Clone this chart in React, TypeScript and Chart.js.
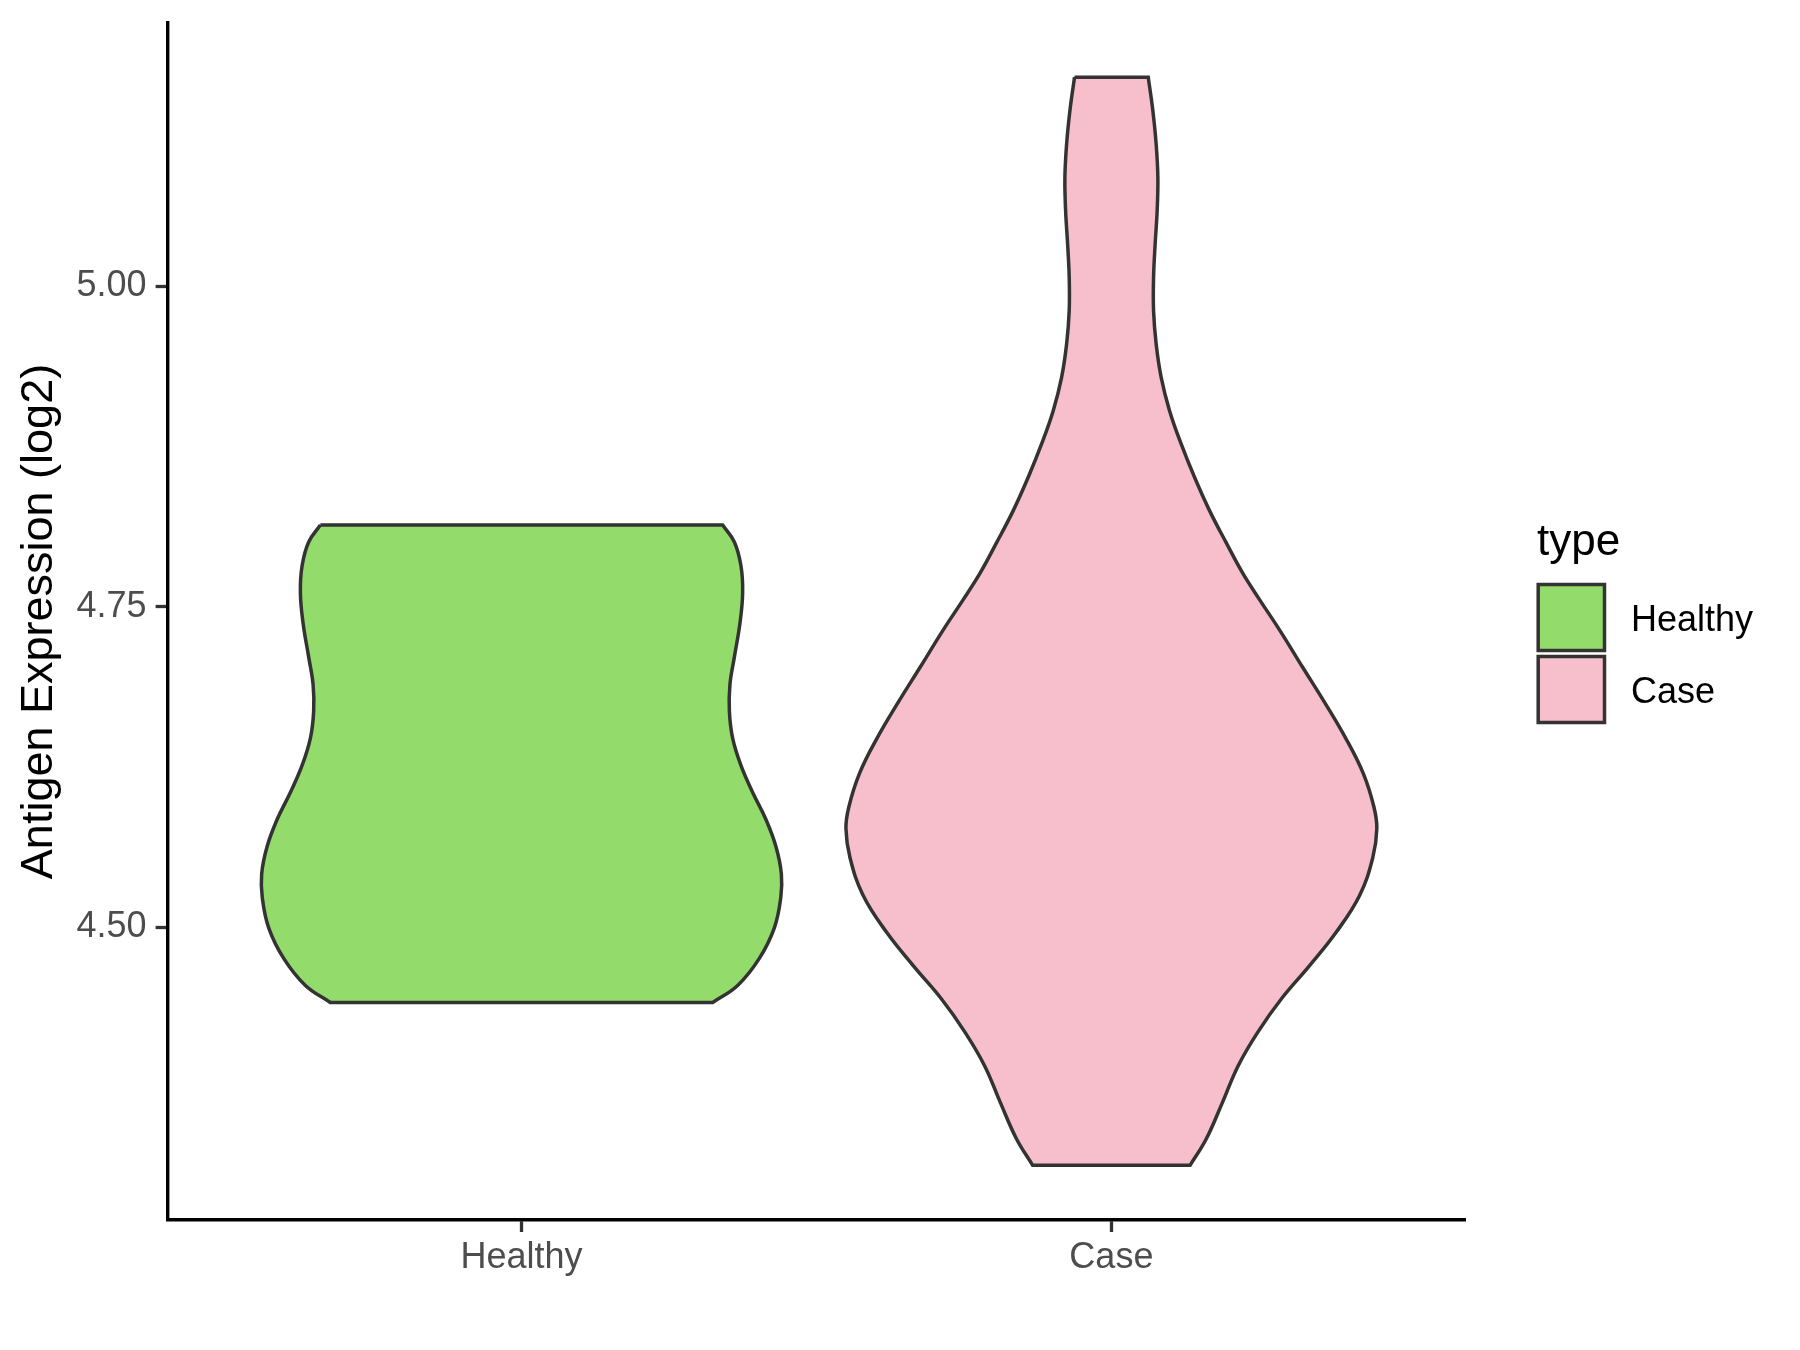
import React, { useEffect, useRef } from 'react';
import { Chart, registerables } from 'chart.js';

Chart.register(...registerables);

// ---------- data ----------
const categories = ['Healthy', 'Case'];
const categoryPositions = [1, 2];
const fillColors = ['#93DB6A', '#F7BFCB'];
const outlineColor = '#333333';
const yTicks = [4.5, 4.75, 5.0];
const yTitle = 'Antigen Expression (log2)';
const legendTitle = 'type';

// violin outlines: value (top -> bottom) and half-width (in category units)
const healthyValues = [4.8137, 4.8005, 4.782, 4.761, 4.7371, 4.7107, 4.6896, 4.6684, 4.6473, 4.6262, 4.6051, 4.584, 4.5628, 4.5417, 4.5232, 4.4995, 4.4757, 4.4546, 4.4413];
const healthyHalfWidth = [0.341, 0.3608, 0.372, 0.3749, 0.3703, 0.3608, 0.3534, 0.3524, 0.358, 0.372, 0.3919, 0.4144, 0.4314, 0.4405, 0.4395, 0.4286, 0.4032, 0.3664, 0.3241];

const caseValues = [5.163, 5.137, 5.111, 5.085, 5.059, 5.033, 5.007, 4.981, 4.955, 4.929, 4.903, 4.877, 4.851, 4.825, 4.8, 4.776, 4.755, 4.732, 4.703, 4.675, 4.646, 4.62, 4.594, 4.577, 4.554, 4.525, 4.496, 4.47, 4.444, 4.418, 4.392, 4.363, 4.335, 4.3144];
const caseHalfWidth = [0.0625, 0.0703, 0.0759, 0.0788, 0.0776, 0.0742, 0.0715, 0.0715, 0.0759, 0.0844, 0.0986, 0.1183, 0.141, 0.1664, 0.1946, 0.2229, 0.252, 0.285, 0.324, 0.362, 0.399, 0.427, 0.445, 0.45, 0.443, 0.421, 0.381, 0.336, 0.288, 0.248, 0.215, 0.188, 0.161, 0.1336];

const yMin = 4.2716;
const yMax = 5.2054;
const xMin = 0.4;
const xMax = 2.6;

const FONT = '"Liberation Sans", Arial, Helvetica, sans-serif';

function outline(center: number, values: number[], hw: number[]) {
  const n = values.length;
  const pts: { x: number; y: number }[] = [];
  for (let i = 0; i < n; i++) pts.push({ x: center - hw[i], y: values[i] });
  pts.push({ x: center - hw[n - 1], y: values[n - 1] });
  pts.push({ x: center + hw[n - 1], y: values[n - 1] });
  for (let i = n - 1; i >= 0; i--) pts.push({ x: center + hw[i], y: values[i] });
  pts.push({ x: center + hw[0], y: values[0] });
  pts.push({ x: center - hw[0], y: values[0] });
  return pts;
}

const legendPlugin = {
  id: 'ggLegend',
  afterDraw(chart: any) {
    const ctx = chart.ctx;
    ctx.save();
    ctx.textAlign = 'left';
    ctx.textBaseline = 'alphabetic';
    ctx.fillStyle = '#000000';
    ctx.font = `44px ${FONT}`;
    ctx.fillText(legendTitle, 1537, 555);
    categories.forEach((c, i) => {
      const top = 584.5 + i * 72;
      ctx.fillStyle = fillColors[i];
      ctx.fillRect(1538.2, top, 66.3, 66);
      ctx.strokeStyle = outlineColor;
      ctx.lineWidth = 3.5;
      ctx.strokeRect(1538.2, top, 66.3, 66);
      ctx.fillStyle = '#000000';
      ctx.font = `36px ${FONT}`;
      ctx.fillText(c, 1631, top + 46.5);
    });
    ctx.restore();
  },
};

export default function App() {
  const ref = useRef<HTMLCanvasElement | null>(null);

  useEffect(() => {
    if (!ref.current) return;
    const series = [
      { values: healthyValues, hw: healthyHalfWidth },
      { values: caseValues, hw: caseHalfWidth },
    ];
    const chart = new Chart(ref.current, {
      type: 'scatter',
      data: {
        datasets: series.map((s, i) => ({
          label: categories[i],
          data: outline(categoryPositions[i], s.values, s.hw),
          showLine: true,
          fill: 'shape',
          backgroundColor: fillColors[i],
          borderColor: outlineColor,
          borderWidth: 3.5,
          tension: 0.4,
          pointRadius: 0,
          pointHoverRadius: 0,
          borderJoinStyle: 'miter',
        })) as any,
      },
      options: {
        responsive: false,
        animation: false,
        events: [],
        layout: { padding: { top: 23, right: 334.7, left: 0, bottom: 0 } },
        plugins: { legend: { display: false }, tooltip: { enabled: false } },
        scales: {
          x: {
            type: 'linear',
            min: xMin,
            max: xMax,
            afterBuildTicks: (axis: any) => {
              axis.ticks = categoryPositions.map((v) => ({ value: v }));
            },
            afterFit: (scale: any) => {
              scale.height = 130;
              scale.paddingLeft = 0;
              scale.paddingRight = 0;
            },
            ticks: {
              callback: (v: any) => {
                const idx = categoryPositions.indexOf(Number(v));
                return idx >= 0 ? categories[idx] : '';
              },
              color: '#4D4D4D',
              font: { family: FONT, size: 36 },
              padding: 4,
              maxRotation: 0,
              autoSkip: false,
            },
            grid: {
              display: true,
              drawOnChartArea: false,
              drawTicks: true,
              tickLength: 12,
              tickWidth: 3.3,
              tickColor: '#333333',
            },
            border: { display: true, color: '#000000', width: 3.4 },
          },
          y: {
            type: 'linear',
            min: yMin,
            max: yMax,
            afterBuildTicks: (axis: any) => {
              axis.ticks = yTicks.map((v) => ({ value: v }));
            },
            afterFit: (scale: any) => {
              scale.width = 167.6;
              scale.paddingTop = 0;
              scale.paddingBottom = 0;
            },
            ticks: {
              callback: (v: any) => Number(v).toFixed(2),
              color: '#4D4D4D',
              font: { family: FONT, size: 36 },
              padding: 9,
            },
            grid: {
              display: true,
              drawOnChartArea: false,
              drawTicks: true,
              tickLength: 12,
              tickWidth: 3.3,
              tickColor: '#333333',
            },
            border: { display: true, color: '#000000', width: 3.4 },
            title: {
              display: true,
              text: yTitle,
              color: '#000000',
              font: { family: FONT, size: 45 },
              padding: { top: 13, bottom: 0 },
            },
          },
        },
      },
      plugins: [legendPlugin],
    });
    return () => chart.destroy();
  }, []);

  return (
    <div style={{ position: 'absolute', left: 0, top: 0, width: 1800, height: 1350, background: '#ffffff' }}>
      <canvas ref={ref} width={1800} height={1350} style={{ width: 1800, height: 1350, display: 'block' }} />
    </div>
  );
}
